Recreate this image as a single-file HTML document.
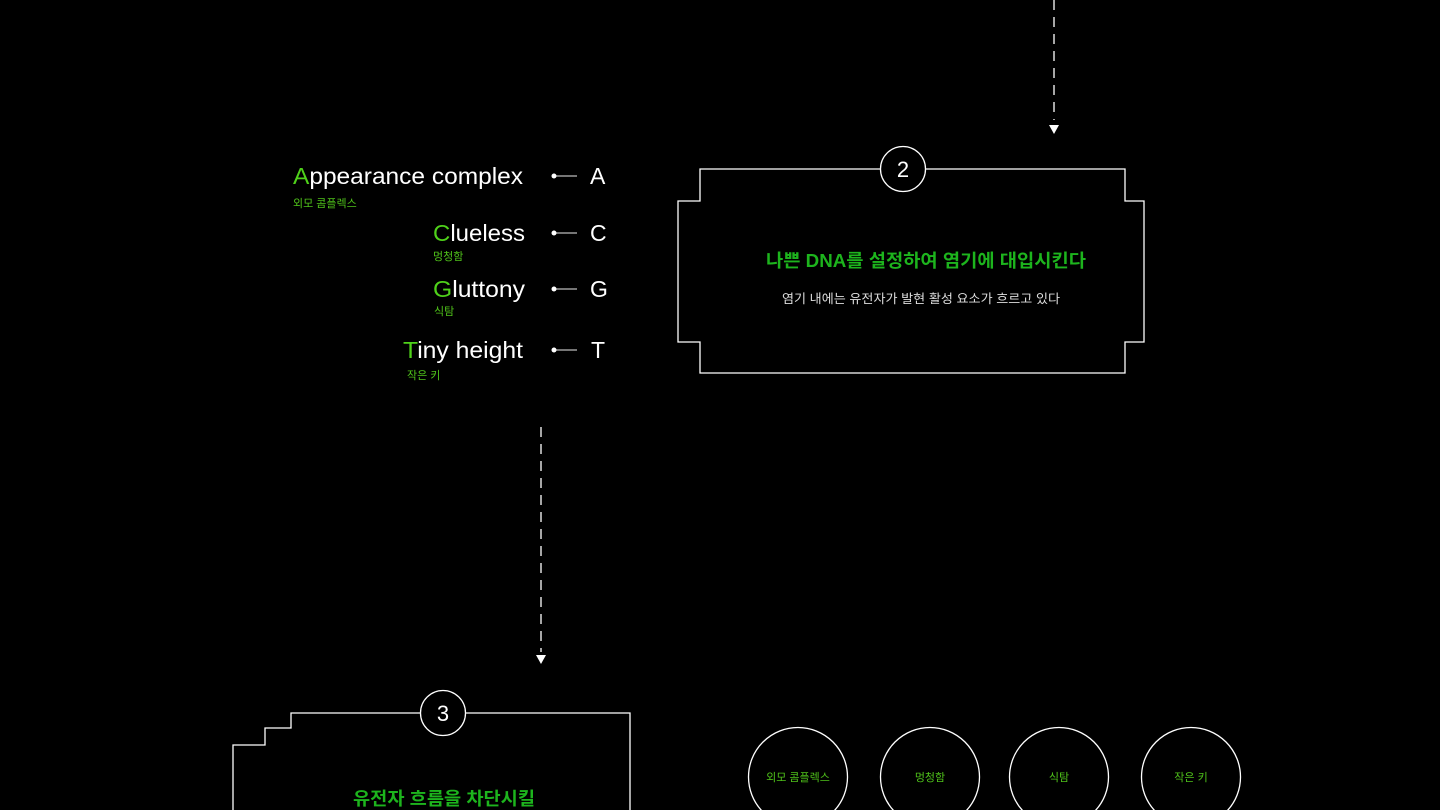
<!DOCTYPE html>
<html><head><meta charset="utf-8"><style>
html,body{margin:0;padding:0;background:#000;width:1440px;height:810px;overflow:hidden}
svg{position:absolute;left:0;top:0}
</style></head><body>
<svg width="1440" height="810">
<g stroke="#fff" stroke-width="1.3" fill="none">
<line x1="1054" y1="0" x2="1054" y2="120" stroke-dasharray="10,7"/>
<line x1="541" y1="427" x2="541" y2="652" stroke-dasharray="10,7"/>
<path d="M700,169 H1125 V201 H1144 V342 H1125 V373 H700 V342 H678 V201 H700 Z"/>
<path d="M233,810 V745 H265 V728 H291 V713 H630 V810"/>
<circle cx="798" cy="777" r="49.5"/>
<circle cx="930" cy="777" r="49.5"/>
<circle cx="1059" cy="777" r="49.5"/>
<circle cx="1191" cy="777" r="49.5"/>
<g stroke="#bbb"><line x1="554" y1="176" x2="577" y2="176"/><line x1="554" y1="233" x2="577" y2="233"/><line x1="554" y1="289" x2="577" y2="289"/><line x1="554" y1="350" x2="577" y2="350"/></g>
</g>
<circle cx="903" cy="169" r="22.5" fill="#000" stroke="#fff" stroke-width="1.3"/>
<circle cx="443" cy="713" r="22.5" fill="#000" stroke="#fff" stroke-width="1.3"/>
<g fill="#fff"><polygon points="1049,125 1059,125 1054,134"/><polygon points="536,655 546,655 541,664"/>
<circle cx="554" cy="176" r="2.5"/><circle cx="554" cy="233" r="2.5"/><circle cx="554" cy="289" r="2.5"/><circle cx="554" cy="350" r="2.5"/></g>
<g font-family="Liberation Sans,sans-serif" font-size="22" fill="#fff" text-anchor="middle">
<text x="903" y="177">2</text><text x="443" y="721">3</text></g>
<g font-family="Liberation Sans,Noto Sans CJK KR,sans-serif" font-size="11" fill="#4fc21a" text-anchor="middle">
<text x="798" y="781">외모 콤플렉스</text><text x="930" y="781">멍청함</text><text x="1059" y="781">식탐</text><text x="1191" y="781">작은 키</text></g>
<g font-family="Liberation Sans,Noto Sans CJK KR,sans-serif">
<text x="766" y="267" font-size="18" font-weight="bold" fill="#1db41d" textLength="320" lengthAdjust="spacingAndGlyphs">나쁜 DNA를 설정하여 염기에 대입시킨다</text>
<text x="782" y="303" font-size="12.5" fill="#ddd" textLength="278" lengthAdjust="spacingAndGlyphs">염기 내에는 유전자가 발현 활성 요소가 흐르고 있다</text>
<text x="353" y="805" font-size="18" font-weight="bold" fill="#1db41d" textLength="182" lengthAdjust="spacingAndGlyphs">유전자 흐름을 차단시킬</text></g>
<g font-family="Liberation Sans,sans-serif" font-size="23" fill="#fff">
<text x="590" y="184">A</text><text x="590" y="241">C</text><text x="590" y="297">G</text><text x="591" y="358">T</text>
<text x="293" y="184" textLength="230" lengthAdjust="spacingAndGlyphs"><tspan fill="#4fd11a">A</tspan>ppearance complex</text>
<text x="433" y="241" textLength="92" lengthAdjust="spacingAndGlyphs"><tspan fill="#4fd11a">C</tspan>lueless</text>
<text x="433" y="297" textLength="92" lengthAdjust="spacingAndGlyphs"><tspan fill="#4fd11a">G</tspan>luttony</text>
<text x="403" y="358" textLength="120" lengthAdjust="spacingAndGlyphs"><tspan fill="#4fd11a">T</tspan>iny height</text></g>
<g font-family="Liberation Sans,Noto Sans CJK KR,sans-serif" font-size="11" fill="#4fc21a">
<text x="293" y="207">외모 콤플렉스</text><text x="433" y="260">멍청함</text><text x="434" y="315">식탐</text><text x="407" y="379">작은 키</text></g>
</svg>
</body></html>
